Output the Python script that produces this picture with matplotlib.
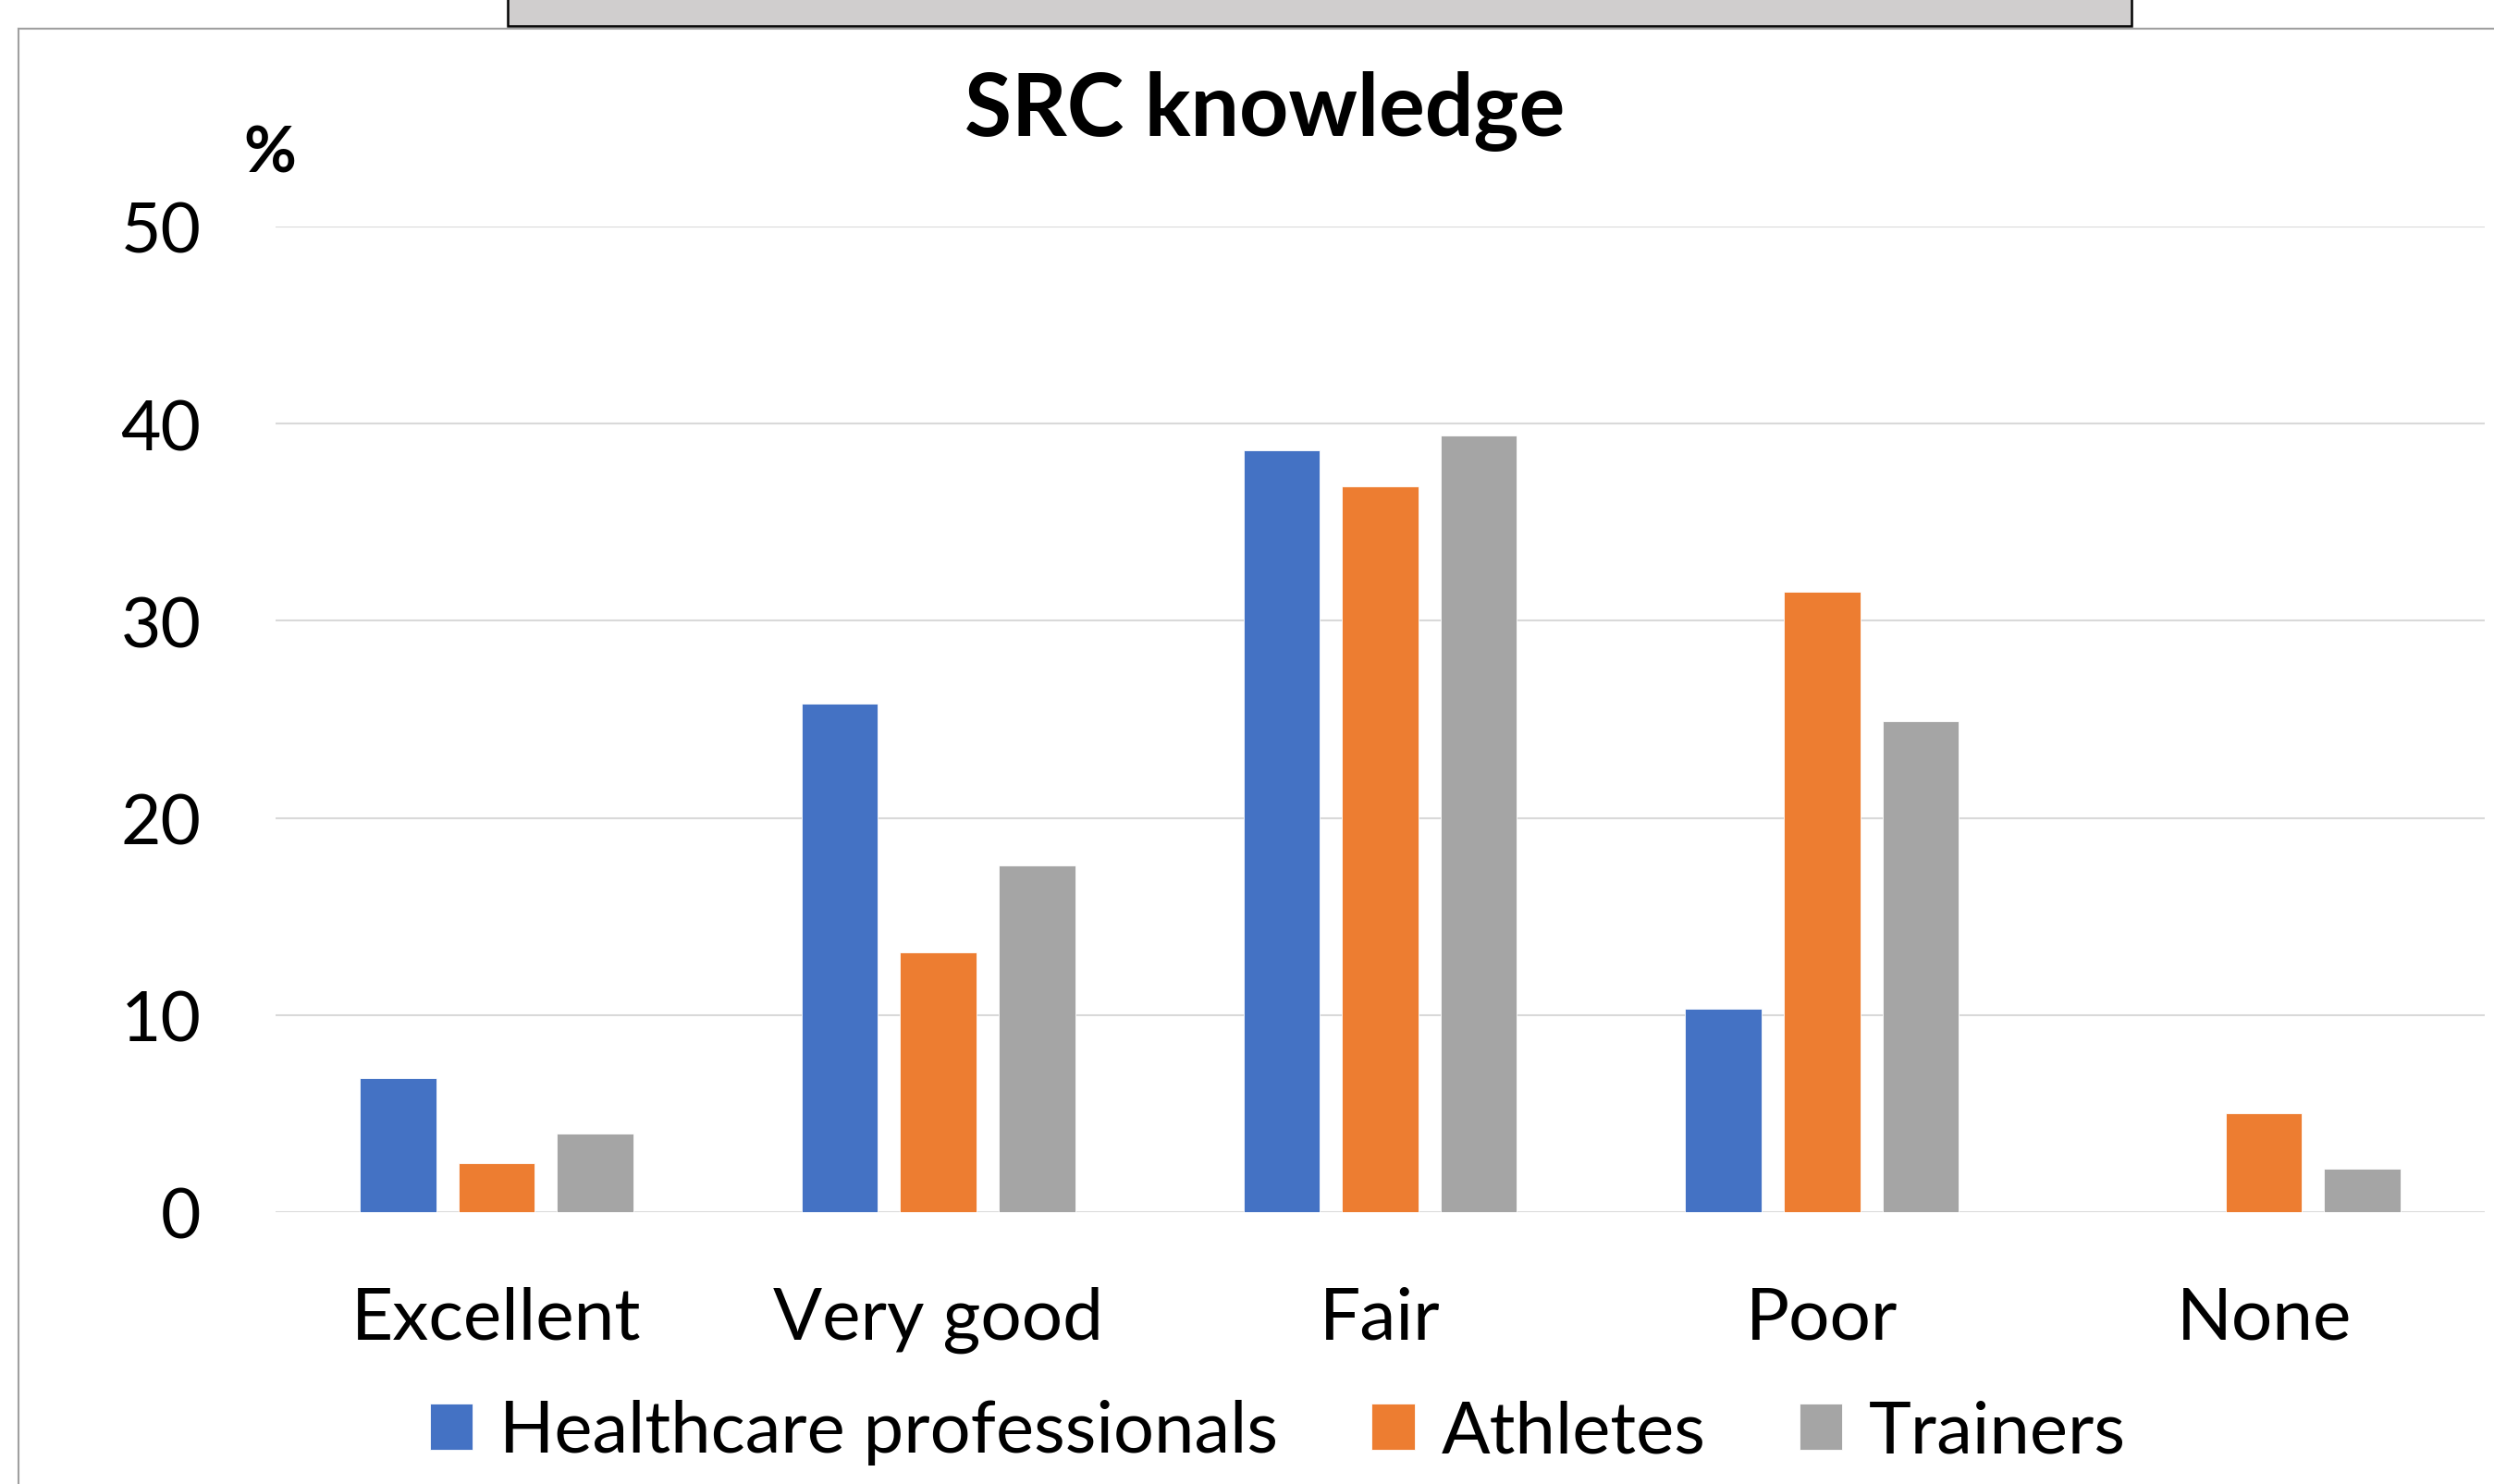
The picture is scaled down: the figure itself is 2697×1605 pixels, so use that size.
import numpy as np
import matplotlib.pyplot as plt
from matplotlib.patches import Rectangle
from matplotlib.lines import Line2D

DPI = 100

# Data (percent).
categories = ['Excellent', 'Very good', 'Fair', 'Poor', 'None']
series_names = ['Healthcare professionals', 'Athletes', 'Trainers']
healthcare = [6.8, 25.8, 38.65, 10.3, 0.0]
athletes = [2.5, 13.2, 36.8, 31.45, 5.0]
trainers = [3.98, 17.58, 39.4, 24.9, 2.2]
colors = ['#4472C4', '#ED7D31', '#A5A5A5']

plt.rcParams['font.family'] = ['Lato', 'DejaVu Sans']

fig = plt.figure(figsize=(2697 / DPI, 1606 / DPI), dpi=DPI)

# Outer chart frame (partly cut by the image edge).
fig.add_artist(Line2D([20 / 2697, 1.0], [1 - 32 / 1606, 1 - 32 / 1606],
                      transform=fig.transFigure, color='#A0A0A0', lw=1.5))
fig.add_artist(Line2D([20 / 2697, 20 / 2697], [0.0, 1 - 32 / 1606],
                      transform=fig.transFigure, color='#A0A0A0', lw=1.5))

# Gray header box, cut off by the top edge.
fig.add_artist(Rectangle((549 / 2697, 1 - 29 / 1606), (2305 - 549) / 2697, 0.05,
                         transform=fig.transFigure, facecolor='#D0CECE',
                         edgecolor='black', lw=1.8))

ax = fig.add_axes([298 / 2697, 294 / 1606, (2687 - 298) / 2697, (1312 - 246) / 1606])

x = np.arange(len(categories))
step = 0.223
width = 0.173
for i, (vals, name) in enumerate(zip([healthcare, athletes, trainers], series_names)):
    ax.bar(x + (i - 1) * step, vals, width, color=colors[i], label=name,
           edgecolor='white', linewidth=0.6, zorder=3)

ax.set_xlim(-0.5, len(categories) - 0.5)
ax.set_ylim(0, 50)
ax.set_yticks([0, 10, 20, 30, 40, 50])
ax.yaxis.grid(True, color='#D9D9D9', lw=1.5, zorder=0)
ax.set_xticks(x)
ax.set_xticklabels(categories)
ax.tick_params(axis='both', length=0)
ax.tick_params(axis='y', pad=58, labelsize=54)
ax.tick_params(axis='x', pad=57, labelsize=56.5)
for s in ax.spines.values():
    s.set_visible(False)

fig.text(1368 / 2697, 1 - 120 / 1606, 'SRC knowledge', ha='center', va='center',
         fontsize=67, fontweight='bold')
fig.text(292 / 2697, 1 - 167 / 1606, '%', ha='center', va='center',
         fontsize=50, fontweight='bold')

fig.legend(loc='center', bbox_to_anchor=(1382 / 2697, 56 / 1606), ncol=3,
           frameon=False, fontsize=56, handlelength=0.6, handleheight=0.6,
           handletextpad=0.37, columnspacing=1.3)

plt.savefig('out.png', dpi=DPI)
